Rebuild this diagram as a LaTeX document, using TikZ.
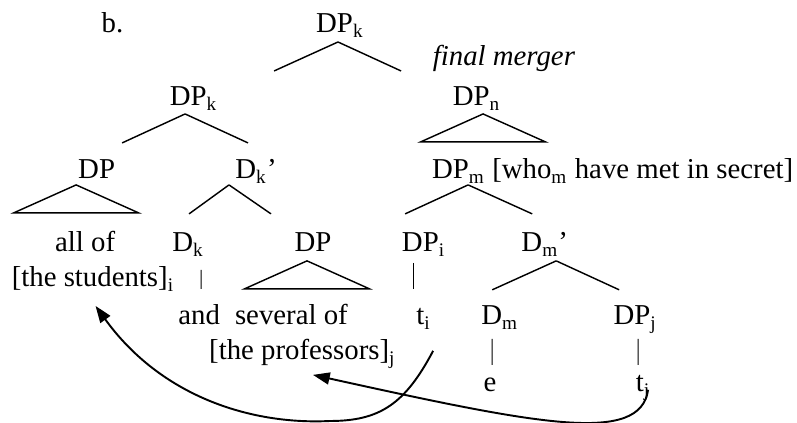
\documentclass[tikz,border=0pt]{standalone}
\usepackage{fontspec}
\setmainfont{Liberation Serif}
\usetikzlibrary{positioning,calc,arrows.meta}

\begin{document}
\begin{tikzpicture}[x=0.41667pt, y=-0.41667pt, node distance=18pt,
  lbl/.style={inner sep=0pt, text height=9pt, text depth=3pt, font=\fontsize{12}{14}\selectfont},
  br/.style={line width=0.6pt},
  bar/.style={line width=0.4pt},
  mv/.style={line width=0.8pt, -{Triangle[length=7pt,width=5pt]}}]
  \useasboundingbox (0,0) rectangle (797,423);

  %Define nodes
  \node[lbl, anchor=base] (dpk) at (340,33) {DP\textsubscript{k}};
  \node[lbl, left=80pt of dpk] (ex) {b.};
  \node[lbl, below=1.3pt of dpk, xshift=68.3pt] (fm) {\itshape final merger};
  \node[lbl, below=of dpk, xshift=-61pt] (dpkl) {DP\textsubscript{k}};
  \node[lbl, below=of dpk, xshift=56.9pt] (dpn) {DP\textsubscript{n}};
  \node[lbl, below=of dpkl, xshift=-40.4pt] (dpa) {DP};
  \node[lbl, below=of dpkl, xshift=26pt] (dkb) {D\textsubscript{k}'};
  \node[lbl, below=of dpn, xshift=56.7pt] (dpm) {DP\textsubscript{m} [who\textsubscript{m} have met in secret]};
  \node[lbl, below=of dpa, xshift=-4.8pt] (allof) {all of};
  \node[lbl, below=2.2pt of allof, xshift=3.3pt] (stud) {[the students]\textsubscript{i}};
  \node[lbl, below=of dkb, xshift=-28.3pt] (dk) {D\textsubscript{k}};
  \node[lbl, below=of dkb, xshift=23.75pt] (dpb) {DP};
  \node[lbl, below=of dk, xshift=4.6pt] (and) {and};
  \node[lbl, below=of dpb, xshift=-9pt] (sev) {several of};
  \node[lbl, below=2.2pt of sev, xshift=4.6pt] (prof) {[the professors]\textsubscript{j}};
  \node[lbl, below=of dpm, xshift=-78.75pt] (dpi) {DP\textsubscript{i}};
  \node[lbl, below=of dpm, xshift=-28.3pt] (dmb) {D\textsubscript{m}'};
  \node[lbl, below=of dpi] (ti) {t\textsubscript{i}};
  \node[lbl, below=of dmb, xshift=-18.75pt] (dm) {D\textsubscript{m}};
  \node[lbl, below=of dmb, xshift=37.7pt] (dpj) {DP\textsubscript{j}};
  \node[lbl, below=15.5pt of dm, xshift=-4pt] (e) {e};
  \node[lbl, below=15.5pt of dpj, xshift=3.3pt] (tj) {t\textsubscript{j}};

  % Connect the nodes
  \draw[br] ($(dpk.base)+(-2,9)$) -- ($(dpkl.base)+(80.5,-35)$);
  \draw[br] ($(dpk.base)+(-2,9)$) -- ($(dpn.base)+(-75.5,-35)$);
  \draw[br] ($(dpkl.base)+(-8.5,8)$) -- ($(dpa.base)+(25.5,-36)$);
  \draw[br] ($(dpkl.base)+(-8.5,8)$) -- ($(dkb.base)+(-8,-36)$);
  \draw[br] ($(dkb.base)+(-27,6)$) -- ($(dk.base)+(1,-38)$);
  \draw[br] ($(dkb.base)+(-27,6)$) -- ($(dpb.base)+(-42,-38)$);
  \draw[br] ($(dpm.base)+(-144.5,6)$) -- ($(dpi.base)+(-18.5,-38)$);
  \draw[br] ($(dpm.base)+(-144.5,6)$) -- ($(dmb.base)+(-12.5,-38)$);
  \draw[br] ($(dmb.base)+(11.5,9)$) -- ($(dm.base)+(-7.5,-35)$);
  \draw[br] ($(dmb.base)+(11.5,9)$) -- ($(dpj.base)+(-16,-35)$);
  \draw[bar] ($(dk.base)+(13,18)$) -- ($(and.base)+(2,-36)$);
  \draw[bar] ($(dpi.base)+(-10.5,11)$) -- ($(ti.base)+(-10.5,-36)$);
  \draw[bar] ($(dm.base)+(-7.5,14)$) -- ($(e.base)+(2,-27)$);
  \draw[bar] ($(dpj.base)+(3,14)$) -- ($(tj.base)+(-5,-27)$);

  % Triangles
  \draw[br] ($(dpn.base)+(6.5,8)$) -- ++(-62.5,28) -- ++(125,0) -- cycle;
  \draw[br] ($(dpa.base)+(-20.5,6)$) -- ++(-62.5,28) -- ++(125,0) -- cycle;
  \draw[br] ($(dpb.base)+(-6,9)$) -- ++(-62.5,28) -- ++(125,0) -- cycle;

  % Movement
  \coordinate (low) at (330,421);
  \draw[mv] ($(ti.base)+(9.5,26)$) .. controls +(-28,53) and +(50,0) .. (low)
    .. controls +(-80,4) and +(65,90) .. ($(stud.base)+(2.5,19)$);
  \draw[mv] ($(tj.base)+(5,-2)$) .. controls +(-8,55) and +(227,50) .. ($(prof.base)+(10.5,15)$);
\end{tikzpicture}
\end{document}
